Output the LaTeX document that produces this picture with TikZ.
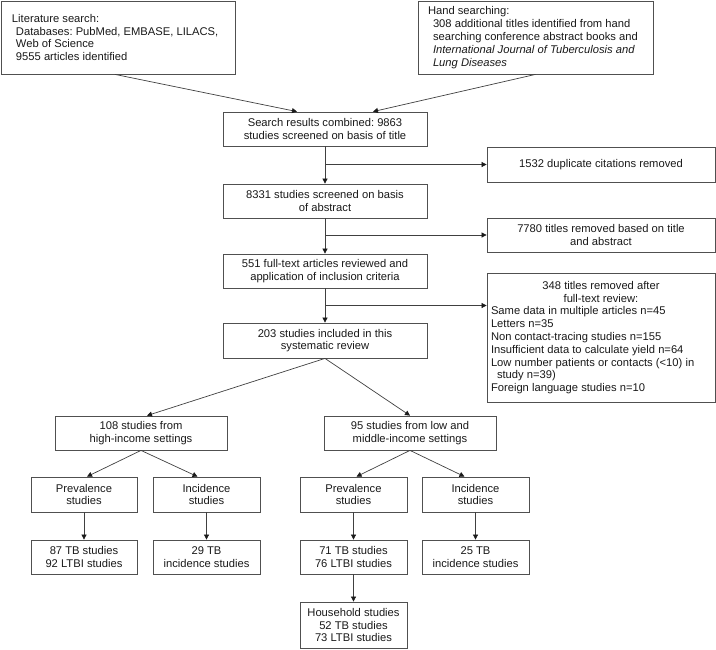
\documentclass[tikz,border=0pt]{standalone}
\usepackage{fontspec}
\setmainfont{Liberation Sans}
\usetikzlibrary{arrows.meta,calc}
\definecolor{linec}{HTML}{505050}
\definecolor{arrc}{HTML}{404040}
\definecolor{tipc}{HTML}{1A1A1A}
\tikzset{
  box/.style={draw=linec, line width=0.8pt, inner sep=0pt, align=center,
    font=\fontsize{11.2}{12.8}\selectfont\frenchspacing, text=black!90},
  arr/.style={draw=arrc, line width=0.7pt, -{Triangle[length=5pt,width=5pt,color=tipc]}}
}
\begin{document}
\begin{tikzpicture}[x=1pt,y=-1pt]
\useasboundingbox (0,0) rectangle (716,649);
% top boxes
\node[box, minimum width=234, minimum height=73, text width=212, align=flush left] (lit) at (118,37.5)
 {Literature search:\\\hspace*{4pt}Databases: PubMed, EMBASE, LILACS,\\\hspace*{4pt}Web of Science\\\hspace*{4pt}9555 articles identified};
\node[box, minimum width=235, minimum height=73, text width=215, align=flush left] (hand) at (535.5,37.5)
 {Hand searching:\\\hspace*{5pt}308 additional titles identified from hand\\\hspace*{5pt}searching conference abstract books and\\\hspace*{5pt}\textit{International Journal of Tuberculosis and}\\\hspace*{5pt}\textit{Lung Diseases}};
% main column
\node[box, minimum width=204, minimum height=34] (search) at (325,129) {Search results combined: 9863\\studies screened on basis of title};
\node[box, minimum width=228, minimum height=35] (dup) at (601,164.5) {1532 duplicate citations removed};
\node[box, minimum width=204, minimum height=34] (abs) at (325,201) {8331 studies screened on basis\\of abstract};
\node[box, minimum width=228, minimum height=34] (rem) at (601,235) {7780 titles removed based on title\\and abstract};
\node[box, minimum width=204, minimum height=34] (full) at (325,271) {551 full-text articles reviewed and\\application of inclusion criteria};
\node[box, minimum width=228, minimum height=129, text width=220, align=flush left] (excl) at (601,337.5)
 {\makebox[220pt]{348 titles removed after}\\
  \makebox[220pt]{full-text review:}\\
  Same data in multiple articles n=45\\
  Letters n=35\\
  Non contact-tracing studies n=155\\
  Insufficient data to calculate yield n=64\\
  Low number patients or contacts (<10) in\\
  \hspace*{6pt}study n=39)\\
  Foreign language studies n=10};
\node[box, minimum width=204, minimum height=35] (incl) at (325,340.5) {203 studies included in this\\systematic review};
% income split
\node[box, minimum width=172, minimum height=34] (hi) at (141,433) {108 studies from\\high-income settings};
\node[box, minimum width=172, minimum height=34] (lm) at (410,433) {95 studies from low and\\middle-income settings};
\node[box, minimum width=106, minimum height=35] (hip) at (84,494.5) {Prevalence\\studies};
\node[box, minimum width=107, minimum height=35] (hii) at (206.5,494.5) {Incidence\\studies};
\node[box, minimum width=107, minimum height=35] (lmp) at (353.5,494.5) {Prevalence\\studies};
\node[box, minimum width=107, minimum height=35] (lmi) at (475.5,494.5) {Incidence\\studies};
\node[box, minimum width=106, minimum height=34] (hipr) at (84,557) {87 TB studies\\92 LTBI studies};
\node[box, minimum width=107, minimum height=34] (hiir) at (206.5,557) {29 TB\\incidence studies};
\node[box, minimum width=107, minimum height=34] (lmpr) at (353.5,557) {71 TB studies\\76 LTBI studies};
\node[box, minimum width=107, minimum height=34] (lmir) at (475.5,557) {25 TB\\incidence studies};
\node[box, minimum width=107, minimum height=46] (house) at (353.5,625) {Household studies\\52 TB studies\\73 LTBI studies};
% connectors
\draw[arr] ([xshift=-3pt]lit.south) -- ([xshift=-28pt]search.north);
\draw[arr] (hand.south) -- ([xshift=48pt]search.north);
\draw[arr] (search) -- (abs);
\coordinate (b1) at (search.south |- dup.west);
\draw[arr] (b1) -- (dup.west);
\draw[arr] (abs) -- (full);
\coordinate (b2) at (abs.south |- rem.west);
\draw[arr] (b2) -- (rem.west);
\draw[arr] (full) -- (incl);
\coordinate (b3) at ($(full.south)!0.5!(incl.north)$);
\draw[arr] (b3) -- (excl.west |- b3);
\draw[arr] (incl.south) -- ([xshift=6pt]hi.north);
\draw[arr] (incl.south) -- (lm.north);
\draw[arr] (hi.south) -- ([xshift=3pt]hip.north);
\draw[arr] (hi.south) -- ([xshift=-9pt]hii.north);
\draw[arr] (lm.south) -- ([xshift=3pt]lmp.north);
\draw[arr] (lm.south) -- ([xshift=-11pt]lmi.north);
\draw[arr] (hip) -- (hipr);
\draw[arr] (hii) -- (hiir);
\draw[arr] (lmp) -- (lmpr);
\draw[arr] (lmi) -- (lmir);
\draw[arr] (lmpr) -- (house);
\end{tikzpicture}
\end{document}
